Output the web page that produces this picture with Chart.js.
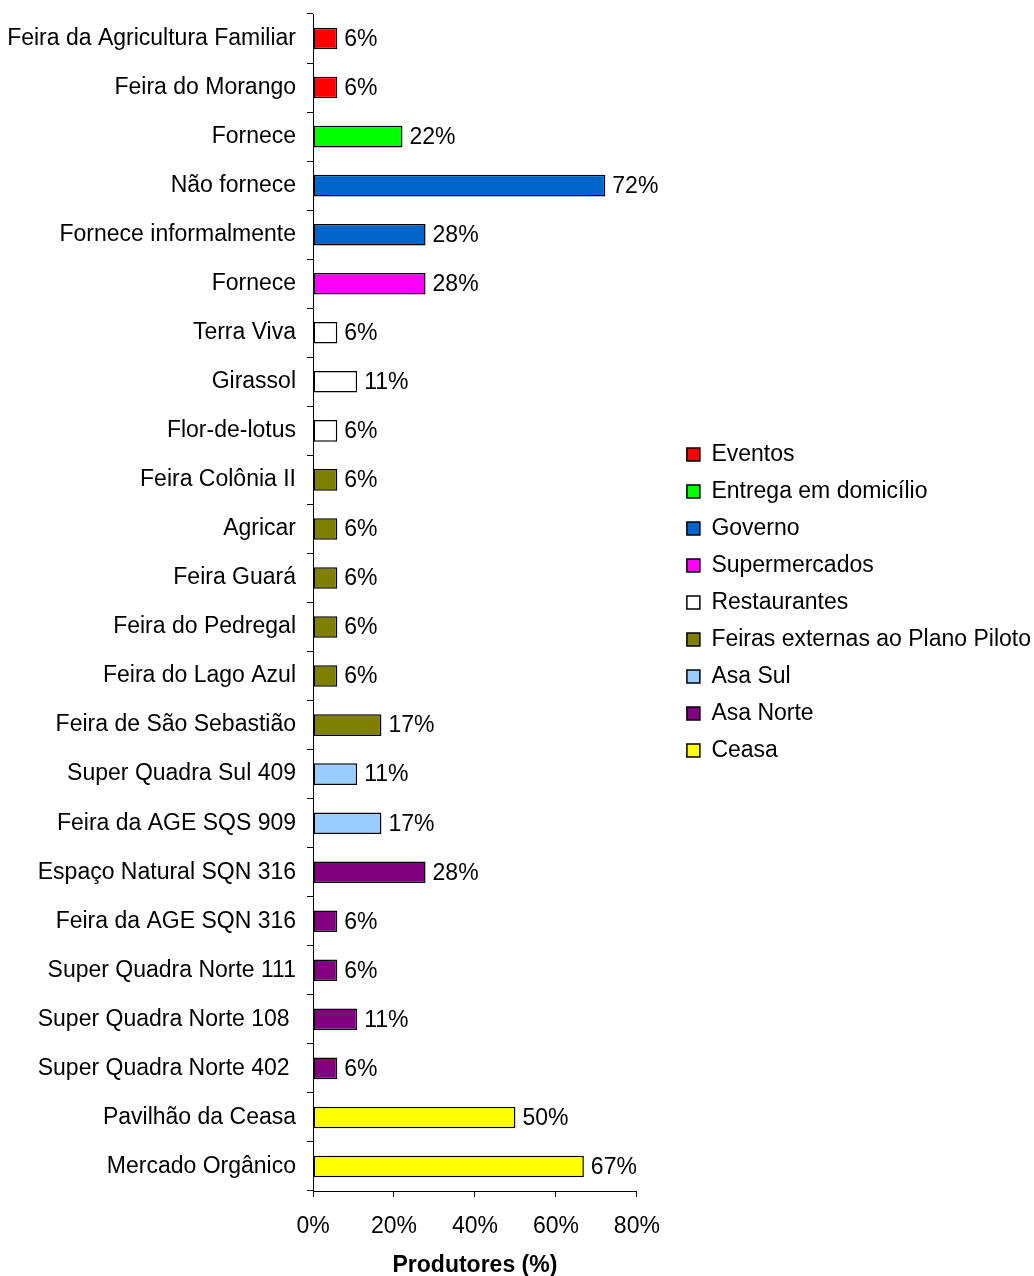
<!DOCTYPE html>
<html>
<head>
<meta charset="utf-8">
<script src="https://cdn.jsdelivr.net/npm/chart.js@4/dist/chart.umd.min.js"></script>
<style>
  html, body { margin: 0; padding: 0; background: #fff; overflow: hidden; width: 1034px; height: 1276px; }
</style>
</head>
<body>
<canvas id="Cnvs1" width="1041" height="1276"></canvas>
<script>
// categories, top to bottom
var categories = [
  'Feira da Agricultura Familiar', 'Feira do Morango', 'Fornece', 'Não fornece',
  'Fornece informalmente', 'Fornece', 'Terra Viva', 'Girassol', 'Flor-de-lotus',
  'Feira Colônia II', 'Agricar', 'Feira Guará', 'Feira do Pedregal', 'Feira do Lago Azul',
  'Feira de São Sebastião', 'Super Quadra Sul 409', 'Feira da AGE SQS 909',
  'Espaço Natural SQN 316', 'Feira da AGE SQN 316', 'Super Quadra Norte 111',
  'Super Quadra Norte 108 ', 'Super Quadra Norte 402 ', 'Pavilhão da Ceasa', 'Mercado Orgânico'
];
var values = [6, 6, 22.1, 72.2, 27.8, 27.8, 6, 10.9, 6, 6, 6, 6, 6, 6,
  16.9, 10.9, 16.9, 27.8, 6, 6, 10.9, 6, 50, 66.9];
// group index of each category
var groupOf = [0, 0, 1, 2, 2, 3, 4, 4, 4, 5, 5, 5, 5, 5, 5, 6, 6, 7, 7, 7, 7, 7, 8, 8];
var groupNames = ['Eventos', 'Entrega em domicílio', 'Governo', 'Supermercados', 'Restaurantes',
  'Feiras externas ao Plano Piloto', 'Asa Sul', 'Asa Norte', 'Ceasa'];
var groupColors = ['#FF0000', '#00FF00', '#0066CC', '#FF00FF', '#FFFFFF',
  '#808000', '#99CCFF', '#800080', '#FFFF00'];
var xTicks = [0, 20, 40, 60, 80];

var FONT = "'Liberation Sans', Arial, sans-serif";
var FS = 23;

var datasets = groupNames.map(function(name, g) {
  return {
    label: name,
    data: values.map(function(v, i) { return groupOf[i] === g ? v : null; }),
    backgroundColor: groupColors[g],
    borderColor: '#000',
    borderWidth: 1.5,
    borderSkipped: false,
    barPercentage: 0.44,
    categoryPercentage: 1
  };
});

var valueLabels = {
  id: 'valueLabels',
  afterDatasetsDraw: function(chart) {
    var ctx = chart.ctx;
    ctx.save();
    ctx.font = FS + 'px ' + FONT;
    ctx.fillStyle = '#000';
    ctx.textBaseline = 'middle';
    ctx.textAlign = 'left';
    chart.data.datasets.forEach(function(ds, d) {
      var meta = chart.getDatasetMeta(d);
      meta.data.forEach(function(bar, i) {
        if (ds.data[i] == null) return;
        ctx.fillText(Math.round(ds.data[i]) + '%', bar.x + 7, bar.y + 1);
      });
    });
    ctx.restore();
  }
};

Chart.defaults.font.family = FONT;
Chart.defaults.font.size = FS;
Chart.defaults.color = '#000';

var Cnvs = document.getElementById('Cnvs1').getContext('2d');
var barChart = new Chart(Cnvs, {
  type: 'bar',
  data: { labels: categories, datasets: datasets },
  plugins: [valueLabels],
  options: {
    indexAxis: 'y',
    responsive: false,
    animation: false,
    layout: { padding: { top: 14, left: 0, right: 0, bottom: 0 } },
    plugins: {
      legend: {
        position: 'right',
        fullSize: false,
        maxWidth: 600,
        labels: { boxWidth: 13, boxHeight: 13, padding: 14, color: '#000', font: { size: FS } }
      },
      tooltip: { enabled: false }
    },
    scales: {
      x: {
        stacked: true,
        min: 0, max: 80,
        afterBuildTicks: function(scale) { scale.ticks = xTicks.map(function(v) { return { value: v }; }); },
        afterFit: function(scale) { scale.height = 85; },
        ticks: { padding: 16, callback: function(v) { return v + '%'; }, font: { size: FS } },
        grid: { drawOnChartArea: false, color: '#000', tickColor: '#000', tickLength: 6 },
        border: { color: '#000', width: 1 },
        title: { display: true, text: 'Produtores (%)', font: { size: FS, weight: 'bold' }, padding: { top: 0, bottom: -3 } }
      },
      y: {
        stacked: true,
        afterFit: function(scale) { scale.width = 313; scale.paddingTop = 0; scale.paddingBottom = 0; },
        ticks: { padding: 11, autoSkip: false, font: { size: FS } },
        grid: { drawOnChartArea: false, color: '#000', tickColor: '#000', tickLength: 6 },
        border: { color: '#000', width: 1 }
      },
      // empty spacer between plot and legend
      gap: {
        type: 'linear',
        axis: 'y',
        position: 'right',
        afterFit: function(scale) { scale.width = 36; scale.paddingTop = 0; scale.paddingBottom = 0; },
        ticks: { display: false },
        grid: { display: false },
        border: { display: false }
      }
    }
  }
});
</script>
</body>
</html>
